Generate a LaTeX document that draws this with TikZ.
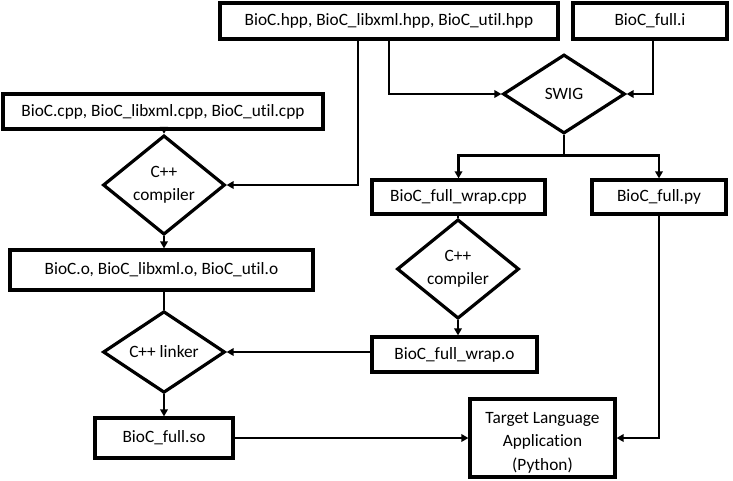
\documentclass[tikz,border=0pt]{standalone}
\usepackage{fontspec}
\setmainfont[Ligatures=NoCommon]{Carlito}
\usetikzlibrary{shapes.geometric,arrows.meta}
\begin{document}
\begin{tikzpicture}[x=1pt,y=-1pt,
  font=\fontsize{17.3}{23.5}\selectfont,
  box/.style={draw,line width=3.2pt,rectangle,inner sep=0pt,align=center},
  dia/.style={draw,line width=3.2pt,diamond,inner sep=0pt,align=center,minimum width=122pt},
  conn/.style={line width=2.8pt},
  arr/.style={conn,-{Triangle[length=7pt,width=7.5pt]}}]
\useasboundingbox (0,0) rectangle (733,480);
\node[box,minimum width=338pt,minimum height=36pt] (hpp) at (389,21) {BioC.hpp, BioC\_libxml.hpp, BioC\_util.hpp};
\node[box,minimum width=154pt,minimum height=36pt] (fulli) at (650,21) {BioC\_full.i};
\node[box,minimum width=320pt,minimum height=35pt] (cpp) at (163,111.5) {BioC.cpp, BioC\_libxml.cpp, BioC\_util.cpp};
\node[dia,minimum height=77pt] (comp1) at (164,185) {C++\\compiler};
\node[dia,minimum height=79pt] (swig) at (564,94) {SWIG};
\node[box,minimum width=173pt,minimum height=34pt] (wrapcpp) at (458.5,197) {BioC\_full\_wrap.cpp};
\node[box,minimum width=134pt,minimum height=34pt] (fullpy) at (659,197) {BioC\_full.py};
\node[box,minimum width=303pt,minimum height=40pt] (obj) at (161.5,270) {BioC.o, BioC\_libxml.o, BioC\_util.o};
\node[dia,minimum height=78pt] (comp2) at (458,269) {C++\\compiler};
\node[dia,minimum height=78pt] (linker) at (164,352) {C++ linker};
\node[box,minimum width=165pt,minimum height=35pt] (wrapo) at (454.5,354.5) {BioC\_full\_wrap.o};
\node[box,minimum width=138pt,minimum height=40pt] (so) at (164,438) {BioC\_full.so};
\node[box,minimum width=145pt,minimum height=78pt] (target) at (542.5,438) {};
\node[align=center,inner sep=0pt] (targettext) at (542.5,442.5) {Target Language\\Application\\(Python)};

\draw[arr] ([xshift=-31pt]hpp.south) |- (comp1.east);
\draw[arr] (hpp.south) |- (swig.west);
\draw[arr] ([xshift=3pt]fulli.south) |- (swig.east);
\draw[arr] (cpp.south -| comp1.north) -- (comp1.north);
\draw[arr] (swig.south) -- ++(0,20) -| (wrapcpp.north);
\draw[arr] (swig.south) -- ++(0,20) -| (fullpy.north);
\draw[arr] (comp1.south) -- (obj.north -| comp1.south);
\draw[conn] (obj.south -| linker.north) -- (linker.north);
\draw[conn] (wrapcpp.south -| comp2.north) -- (comp2.north);
\draw[arr] (comp2.south) -- (wrapo.north -| comp2.south);
\draw[arr] (wrapo.west |- linker.east) -- (linker.east);
\draw[arr] (linker.south) -- (so.north -| linker.south);
\draw[arr] (so.east) -- (target.west);
\draw[arr] (fullpy.south) |- (target.east);
\end{tikzpicture}
\end{document}
